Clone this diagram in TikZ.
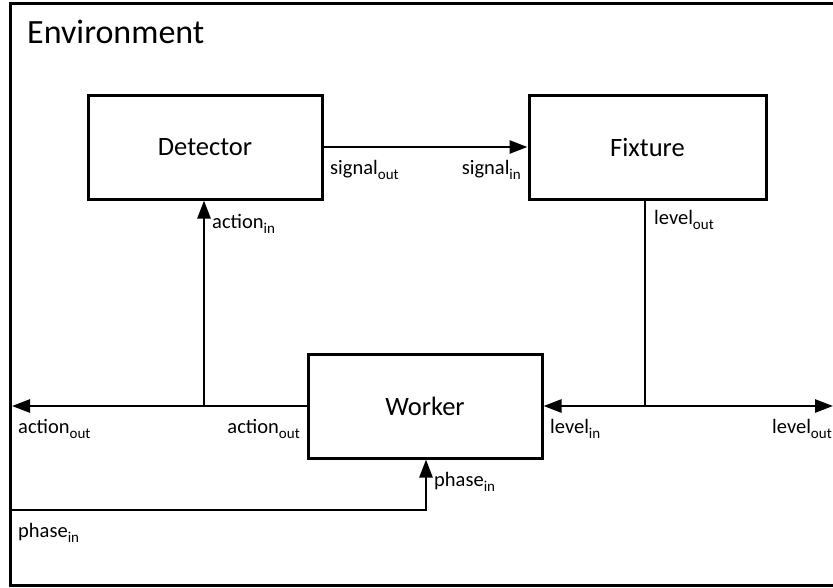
\documentclass[tikz,border=0pt]{standalone}
\usepackage{fontspec}
\setmainfont{Carlito}
\usetikzlibrary{arrows.meta}

% lowered small text for port indices
\newcommand{\subtxt}[1]{\raisebox{-0.28em}{\fontsize{15}{18}\selectfont #1}}

\begin{document}
\begin{tikzpicture}[x=1pt,y=-1pt,
    >={Triangle[length=18pt,width=13pt]},
    block/.style={draw,line width=3pt,minimum width=234pt,minimum height=104pt,
      font=\fontsize{26.5}{32}\selectfont},
    port/.style={inner sep=0pt,font=\fontsize{20.5}{25}\selectfont},
    wire/.style={line width=2.6pt}]
  \useasboundingbox (0,0) rectangle (833,587);
  \clip (0,0) rectangle (833,587);

  % surrounding frame
  \draw[line width=3pt] (10,3) rectangle (850,585);
  \node[port,anchor=base west,font=\fontsize{34}{40}\selectfont] (env) at (27,43) {Environment};

  % blocks
  \node[block] (det) at (205,147) {Detector};
  \node[block,minimum width=237pt] (fix) at (647.5,147) {Fixture};
  \node[block] (wrk) at (425,406) {Worker};

  % junctions and free ends
  \coordinate (actsplit) at (204,406);
  \coordinate (actend) at (12,406);
  \coordinate (levsplit) at (645,406);
  \coordinate (levend) at (833,406);
  \coordinate (phstart) at (10,510);
  \coordinate (phbend) at (426,510);

  % connections
  \draw[wire,->] (det.east) -- (fix.west);
  \draw[wire,->] (wrk.west) -- (actend);
  \draw[wire,->] (actsplit) -- (actsplit |- det.south);
  \draw[wire] (levsplit |- fix.south) -- (levsplit);
  \draw[wire,->] (levsplit) -- (wrk.east);
  \draw[wire,->] (levsplit) -- (levend);
  \draw[wire,->] (phstart) -- (phbend) -- (phbend |- wrk.south);

  % port labels
  \node[port,anchor=base west] (sigout) at (330,174) {signal\subtxt{out}};
  \node[port,anchor=base east] (sigin) at (521,174) {signal\subtxt{in}};
  \node[port,anchor=base west] (actin) at (212,228) {action\subtxt{in}};
  \node[port,anchor=base west] (levout) at (654,224) {level\subtxt{out}};
  \node[port,anchor=base west] (actoutl) at (18,433) {action\subtxt{out}};
  \node[port,anchor=base east] (actoutr) at (300,433) {action\subtxt{out}};
  \node[port,anchor=base west] (levin) at (550,433) {level\subtxt{in}};
  \node[port,anchor=base east] (levoutr) at (832,433) {level\subtxt{out}};
  \node[port,anchor=base west] (phin) at (434,486) {phase\subtxt{in}};
  \node[port,anchor=base west] (phinl) at (18,537) {phase\subtxt{in}};
\end{tikzpicture}
\end{document}
